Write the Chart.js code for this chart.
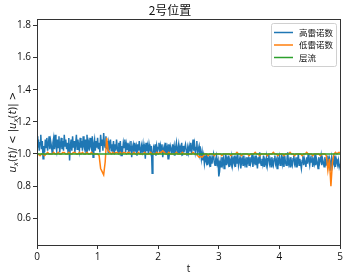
<!DOCTYPE html>
<html><head><meta charset="utf-8">
<script src="https://cdn.jsdelivr.net/npm/chart.js@4.4.1/dist/chart.umd.min.js"></script>
<style>html,body{margin:0;padding:0;background:#fff;overflow:hidden}#wrap{width:349px;height:278px}</style>
</head><body><div id="wrap"><canvas id="c" width="349" height="278"></canvas></div>
<script>
const TITLE = "2号位置";
const SERIES_NAMES = ["高雷诺数", "低雷诺数", "层流"];
const X_TITLE = "t";
const X_TICKS = [0, 1, 2, 3, 4, 5];
const Y_TICKS = [0.6, 0.8, 1.0, 1.2, 1.4, 1.6, 1.8];
const T_STEP_HIGH = 0.0125;
const T_STEP_LOW = 0.025;
const highRe = [
 1.11,1.04,1.09,1.02,1.07,1.12,1.03,1.08,0.97,1.05,1.01,1.09,1.04,1.10,1.02,1.06,1.11,1.03,1.08,1.05,
 1.01,1.07,1.10,1.03,1.12,1.05,1.02,1.09,1.04,1.11,1.01,1.06,1.10,1.03,1.08,1.02,1.12,1.05,1.09,1.03,
 1.07,1.01,1.10,0.96,1.05,1.09,1.02,1.11,1.04,1.08,1.01,1.06,1.12,1.03,1.09,1.05,1.02,1.10,1.04,1.08,
 1.02,1.11,1.05,1.03,1.09,1.01,1.12,1.04,1.07,1.02,1.10,1.05,1.03,1.11,0.98,1.06,1.09,1.02,1.08,1.04,
 1.10,1.03,1.07,1.01,1.12,1.05,1.09,1.02,1.13,1.06,1.04,1.11,1.03,1.08,1.01,1.07,1.05,1.09,1.02,1.06,
 1.03,1.08,1.00,1.06,1.02,1.09,1.04,1.01,1.07,1.03,1.08,0.99,1.05,1.02,1.07,1.04,1.09,1.01,1.06,1.03,
 1.07,1.00,1.05,1.02,1.08,0.98,1.04,1.06,1.01,1.07,1.03,1.05,0.99,1.06,1.02,1.08,1.03,1.00,1.05,1.02,
 1.06,1.01,1.04,0.97,1.07,1.02,1.05,1.00,1.06,1.03,1.01,1.05,0.88,1.00,1.04,1.02,1.06,0.99,1.05,1.02,
 1.04,1.07,1.00,1.05,1.02,1.06,0.98,1.03,1.05,1.01,1.07,1.02,1.04,0.97,1.06,1.01,1.05,1.03,1.00,1.06,
 1.02,1.05,0.99,1.04,1.07,1.01,1.03,1.06,1.00,1.04,1.02,1.07,0.99,1.05,1.01,1.04,1.06,1.02,0.99,1.04,
 1.01,1.05,1.02,1.07,1.00,1.04,1.09,1.02,1.06,1.01,1.04,1.08,0.99,1.03,1.05,1.00,1.02,0.97,1.01,0.96,
 0.99,0.94,0.98,0.96,1.00,0.93,0.97,0.95,0.99,0.92,0.97,0.94,0.98,1.00,0.95,0.93,0.97,0.99,0.94,0.96,
 0.86,0.89,0.95,0.92,0.98,0.94,0.97,0.91,0.96,1.00,0.93,0.97,0.95,0.99,0.92,0.96,0.94,0.98,0.93,0.97,
 0.95,0.99,0.92,0.97,0.94,1.00,0.93,0.96,0.98,0.91,0.95,0.97,0.93,0.99,0.94,0.96,0.92,0.98,0.95,0.97,
 0.93,0.98,0.94,0.96,1.00,0.92,0.97,0.95,0.99,0.93,0.96,0.91,0.98,0.94,1.01,0.95,0.93,0.97,0.94,0.99,
 0.92,0.96,0.94,0.98,0.93,0.97,1.00,0.94,0.96,0.92,0.98,0.95,0.93,0.97,0.99,0.94,0.96,0.91,0.97,0.95,
 0.98,0.93,0.96,1.00,0.94,0.97,0.92,0.99,0.95,0.93,0.97,1.01,0.94,0.96,0.92,0.98,0.95,0.93,0.97,0.99,
 0.94,0.96,0.92,0.98,0.95,1.00,0.93,0.97,0.94,0.91,0.96,0.99,0.93,0.97,0.95,0.92,0.98,0.94,1.00,0.96,
 0.93,0.97,0.95,0.99,0.92,0.96,0.94,1.00,0.93,0.97,0.95,0.91,0.98,0.94,0.96,0.99,0.93,0.97,0.95,0.92,
 0.98,0.94,0.96,0.93,0.99,0.95,0.97,0.90,0.95,0.98,0.93,0.96,0.94,0.99,0.92,0.97,0.95,0.93,0.96,0.92,
 0.94
];
const lowRe = [
 0.99,1.00,0.99,1.00,1.00,0.99,1.00,1.01,1.00,1.00,
 1.00,1.01,1.00,1.00,1.01,1.00,1.00,1.01,1.01,1.00,
 1.00,1.01,1.00,1.00,1.01,1.01,1.00,1.00,1.01,1.00,
 1.01,1.00,1.00,1.01,1.00,1.00,1.01,1.00,1.00,1.00,
 1.00,0.99,0.91,0.89,0.87,0.95,1.10,1.02,1.01,1.00,
 1.01,1.00,1.01,1.01,1.00,1.01,1.00,1.01,1.01,1.00,
 1.01,1.01,1.00,1.00,1.01,1.00,1.00,1.01,1.00,1.00,
 1.00,1.01,1.00,1.00,1.00,1.01,1.00,1.00,1.00,1.01,
 1.00,1.01,1.01,1.02,1.01,1.00,1.00,1.01,1.00,1.00,
 1.00,1.00,1.01,1.00,1.00,1.00,1.01,1.00,1.00,1.00,
 1.00,1.00,1.00,1.01,1.00,1.00,0.99,0.98,0.985,0.98,
 0.99,1.00,1.00,0.99,1.00,1.00,1.00,0.99,1.00,1.00,
 1.00,1.00,0.99,1.00,1.00,1.00,1.00,1.00,0.99,1.00,
 1.00,1.00,1.01,1.00,1.00,0.99,1.00,1.00,1.00,1.00,
 0.99,1.00,1.00,1.00,1.01,1.00,1.00,0.99,1.00,1.00,
 1.00,1.00,0.99,1.00,1.00,1.00,1.01,1.00,1.00,0.99,
 1.00,1.00,1.00,0.99,1.00,1.00,1.00,1.01,1.00,1.00,
 0.99,1.00,1.00,1.00,1.00,0.99,1.00,1.00,1.01,1.00,
 1.00,1.00,0.99,1.00,1.00,1.00,1.00,0.99,1.00,1.00,
 1.00,0.99,0.90,0.97,0.80,0.95,1.00,1.01,1.00,1.01,
 1.01
];
const laminarT = [0, 5];
const laminar = [1.0, 1.0];
const COLORS = ["#1f77b4", "#ff7f0e", "#2ca02c"];

const gridFor = (n, step) => Array.from({ length: n }, (_, i) => +(i * step).toFixed(5));
const toXY = (ts, ys) => ys.map((y, i) => ({ x: ts[i], y: y }));

const FONT_TXT = "'Open Sans','Noto Sans CJK SC',sans-serif";
Chart.defaults.font.family = FONT_TXT;
Chart.defaults.font.size = 10;
Chart.defaults.color = "#111";

const frame = {
  id: 'frame',
  afterDatasetsDraw(chart) {
    const { ctx, chartArea: a } = chart;
    ctx.save();
    ctx.strokeStyle = "#333";
    ctx.lineWidth = 1;
    ctx.strokeRect(Math.round(a.left) + 0.5, Math.round(a.top) + 0.5, Math.round(a.right - a.left), Math.round(a.bottom - a.top));
    ctx.restore();
  }
};

const legendBox = {
  id: 'legendBox',
  afterDraw(chart) {
    const { ctx, chartArea: a } = chart;
    const x0 = Math.round(a.right) - 69, y0 = Math.round(a.top) + 4, w = 65, h = 43;
    ctx.save();
    ctx.fillStyle = "rgba(255,255,255,0.85)";
    ctx.strokeStyle = "#d0d0d0";
    ctx.lineWidth = 1;
    ctx.beginPath();
    ctx.roundRect(x0 + 0.5, y0 + 0.5, w, h, 2);
    ctx.fill(); ctx.stroke();
    ctx.font = "8.5px 'Noto Sans CJK SC', sans-serif";
    ctx.textBaseline = "middle";
    chart.data.datasets.forEach((ds, i) => {
      const yy = y0 + 9.5 + i * 12.5;
      ctx.strokeStyle = ds.borderColor;
      ctx.lineWidth = 1.5;
      ctx.beginPath(); ctx.moveTo(x0 + 3, yy); ctx.lineTo(x0 + 22, yy); ctx.stroke();
      ctx.fillStyle = "#111";
      ctx.fillText(ds.label, x0 + 28, yy);
    });
    ctx.restore();
  }
};

const yLabelParts = [["u","i"],["x","s"],["(","n"],["t","i"],[")/ < |","n"],["u","i"],["x","s"],["(","n"],["t","i"],[")| >","n"]];
const yLabel = {
  id: 'yLabel',
  afterDraw(chart) {
    const { ctx, chartArea: a } = chart;
    const fontFor = k => k === "i" ? "italic 10px 'DejaVu Sans'" : k === "s" ? "italic 7px 'DejaVu Sans'" : "10px 'DejaVu Sans'";
    ctx.save();
    let total = 0;
    yLabelParts.forEach(([s, k]) => { ctx.font = fontFor(k); total += ctx.measureText(s).width; });
    ctx.translate(12, (a.top + a.bottom) / 2);
    ctx.rotate(-Math.PI / 2);
    ctx.textBaseline = "alphabetic";
    ctx.fillStyle = "#111";
    let x = -total / 2;
    yLabelParts.forEach(([s, k]) => {
      ctx.font = fontFor(k);
      ctx.fillText(s, x, k === "s" ? 6 : 4);
      x += ctx.measureText(s).width;
    });
    ctx.restore();
  }
};

new Chart(document.getElementById('c'), {
  type: 'line',
  data: {
    datasets: [
      { label: SERIES_NAMES[0], data: toXY(gridFor(highRe.length, T_STEP_HIGH), highRe), borderColor: COLORS[0], backgroundColor: COLORS[0], borderWidth: 1.5, pointRadius: 0, tension: 0, order: 2 },
      { label: SERIES_NAMES[1], data: toXY(gridFor(lowRe.length, T_STEP_LOW), lowRe), borderColor: COLORS[1], backgroundColor: COLORS[1], borderWidth: 1.5, pointRadius: 0, tension: 0, order: 1 },
      { label: SERIES_NAMES[2], data: toXY(laminarT, laminar), borderColor: COLORS[2], backgroundColor: COLORS[2], borderWidth: 1.5, pointRadius: 0, tension: 0, order: 0 }
    ]
  },
  options: {
    responsive: false,
    animation: false,
    devicePixelRatio: 1,
    layout: { padding: { left: 0, right: 9, top: 0, bottom: 0 } },
    plugins: {
      legend: { display: false },
      tooltip: { enabled: false },
      title: { display: true, text: TITLE, font: { size: 12, family: "'Noto Sans CJK SC', sans-serif", weight: 'normal' }, color: "#111", padding: { top: 3.5, bottom: 1.5 } }
    },
    scales: {
      x: {
        type: 'linear', min: 0, max: 5,
        afterBuildTicks: s => { s.ticks = X_TICKS.map(v => ({ value: v })); },
        afterFit: s => { s.height = 33; },
        ticks: { callback: v => String(v), padding: 2, maxRotation: 0, color: "#111" },
        grid: { drawOnChartArea: false, tickLength: 4, tickColor: "#333" },
        border: { display: false },
        title: { display: true, text: X_TITLE, padding: { top: 0, bottom: 3 }, color: "#111" }
      },
      y: {
        type: 'linear', min: 0.434, max: 1.837,
        afterBuildTicks: s => { s.ticks = Y_TICKS.map(v => ({ value: v })); },
        afterFit: s => { s.width = 37; },
        ticks: { callback: v => v.toFixed(1), padding: 2, color: "#111" },
        grid: { drawOnChartArea: false, tickLength: 4, tickColor: "#333" },
        border: { display: false }
      }
    }
  },
  plugins: [frame, legendBox, yLabel]
});
</script>
</body></html>
